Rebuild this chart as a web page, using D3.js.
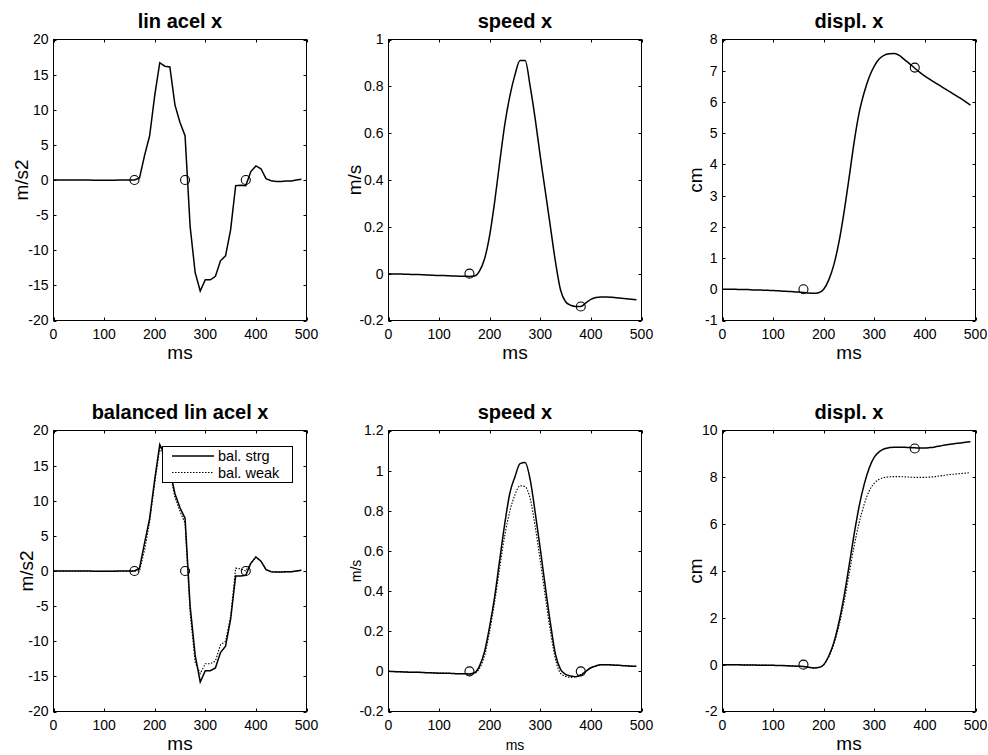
<!DOCTYPE html>
<html>
<head>
<meta charset="utf-8">
<script src="https://cdn.jsdelivr.net/npm/d3@7"></script>
<style>
  body { margin: 0; background: #fff; }
  svg { display: block; }
  text { font-family: "Liberation Sans", Arial, Helvetica, sans-serif; fill: #000; }
</style>
</head>
<body>
<div id="chart"></div>
<script>
// ── data (ms sampled every 10) ─────────────────────────────────────
const timeMs = d3.range(0, 500, 10);

const accel = [0,0,0,0,0,0,0,0,-0.05,-0.05,-0.05,-0.05,-0.02,0,0,0,0,0.3,3.5,6.3,
  12,16.7,16.2,16.1,10.7,8.2,6.3,-6.6,-13.2,-15.8,-14.2,-14.2,-13.7,-11.5,-10.8,-7.1,-0.8,-0.75,-0.8,1.2,
  2.0,1.6,0.2,-0.1,-0.2,-0.2,-0.15,-0.15,0,0.1];
const speed = [0,-0.001,-0.001,-0.002,-0.003,-0.004,-0.004,-0.005,-0.006,-0.007,-0.008,-0.008,-0.009,-0.01,-0.011,-0.011,-0.012,-0.01,0.012,0.065,
  0.165,0.31,0.48,0.64,0.76,0.85,0.91,0.91,0.8,0.66,0.5,0.35,0.2,0.05,-0.07,-0.12,-0.135,-0.14,-0.14,-0.125,
  -0.11,-0.102,-0.1,-0.1,-0.101,-0.103,-0.105,-0.107,-0.109,-0.111];
const displ = [0,0,0,-0.005,-0.01,-0.01,-0.02,-0.02,-0.03,-0.035,-0.04,-0.05,-0.06,-0.07,-0.08,-0.09,-0.1,-0.12,-0.13,-0.11,
  0,0.3,0.78,1.5,2.45,3.55,4.7,5.65,6.3,6.8,7.15,7.38,7.5,7.54,7.55,7.48,7.35,7.22,7.08,6.95,
  6.83,6.72,6.62,6.52,6.42,6.32,6.22,6.12,6.01,5.9];

const accelStrong = [0,0,0,0,0,0,0,0,-0.05,-0.05,-0.05,-0.05,-0.02,0,0,0,0,0.4,4,7.5,
  13,18,16.5,14.5,11,9,7.5,-5,-12,-15.8,-14.2,-14.2,-13.8,-11.6,-10.7,-6.9,-0.7,-0.7,-0.6,1.1,
  2.0,1.4,0.2,-0.1,-0.15,-0.15,-0.1,-0.1,0,0.1];
const accelWeak = [0,0,0,0,0,0,0,0,-0.05,-0.05,-0.05,-0.05,-0.02,0,0,0,0,0,3,7,
  12.5,17.5,16,14,10.5,8.5,6.8,-6,-13,-14.6,-13.2,-13.2,-12.8,-10.5,-10,-6.5,0.4,0.3,0,1.1,
  2.0,1.4,0.2,-0.1,-0.15,-0.15,-0.1,-0.1,0,0.1];
const speedStrong = [0,-0.001,-0.002,-0.003,-0.004,-0.005,-0.005,-0.006,-0.007,-0.008,-0.009,-0.009,-0.01,-0.011,-0.012,-0.012,-0.013,-0.007,0.027,0.1,
  0.225,0.375,0.56,0.74,0.89,0.97,1.035,1.04,0.955,0.79,0.61,0.42,0.24,0.085,0.01,-0.015,-0.023,-0.027,-0.02,0,
  0.018,0.027,0.033,0.033,0.032,0.031,0.029,0.028,0.026,0.025];
const speedWeak = [0,-0.001,-0.002,-0.003,-0.004,-0.005,-0.005,-0.006,-0.007,-0.008,-0.009,-0.009,-0.01,-0.011,-0.012,-0.012,-0.013,-0.01,0.015,0.08,
  0.2,0.35,0.52,0.68,0.8,0.88,0.925,0.92,0.86,0.72,0.55,0.37,0.2,0.06,-0.01,-0.025,-0.03,-0.025,-0.015,0,
  0.018,0.027,0.033,0.033,0.032,0.031,0.029,0.028,0.026,0.025];
const displStrong = [0,0,0,-0.005,-0.01,-0.01,-0.015,-0.02,-0.02,-0.025,-0.03,-0.035,-0.04,-0.05,-0.06,-0.07,-0.08,-0.11,-0.14,-0.12,
  0,0.37,0.94,1.8,2.9,4.2,5.55,6.76,7.7,8.4,8.86,9.1,9.22,9.27,9.29,9.29,9.28,9.27,9.26,9.25,
  9.25,9.27,9.3,9.34,9.38,9.41,9.44,9.47,9.5,9.52];
const displWeak = [0,0,0,-0.005,-0.01,-0.01,-0.015,-0.02,-0.02,-0.025,-0.03,-0.035,-0.04,-0.05,-0.06,-0.07,-0.08,-0.11,-0.14,-0.12,
  0,0.33,0.88,1.65,2.65,3.85,5.05,6.05,6.85,7.42,7.75,7.92,7.99,8.02,8.03,8.03,8.02,8.01,8.0,8.0,
  8.0,8.01,8.03,8.06,8.09,8.12,8.14,8.16,8.18,8.2];

// event markers (ms, value)
const markAccel = [[160, 0], [260, 0], [380, 0]];
const markSpeed = [[160, 0], [380, -0.14]];
const markDispl = [[160, 0], [380, 7.1]];
const markSpeedBal = [[160, 0], [380, 0]];
const markDisplBal = [[160, 0], [380, 9.23]];

const xTicks = [0, 100, 200, 300, 400, 500];
const yTicksAccel = [-20, -15, -10, -5, 0, 5, 10, 15, 20];
const yTicksSpeed = [-0.2, 0, 0.2, 0.4, 0.6, 0.8, 1];
const yTicksDispl = [-1, 0, 1, 2, 3, 4, 5, 6, 7, 8];
const yTicksSpeedBal = [-0.2, 0, 0.2, 0.4, 0.6, 0.8, 1, 1.2];
const yTicksDisplBal = [-2, 0, 2, 4, 6, 8, 10];

const legendLabels = ["bal. strg", "bal. weak"];

// ── layout ─────────────────────────────────────────────────────────
const W = 988, H = 755;
const colX = [53.5, 388.5, 722.5];
const rowY = [[39.5, 320.5], [430.5, 711.5]];
const axW = 253;

const panels = [
  { col: 0, row: 0, title: "lin acel x", ylab: "m/s2", ticks: yTicksAccel, series: [accel], marks: markAccel, ylabOff: 26, labSize: 19, curve: d3.curveLinear },
  { col: 1, row: 0, title: "speed x", ylab: "m/s", ticks: yTicksSpeed, series: [speed], marks: markSpeed, ylabOff: 28, labSize: 19, curve: d3.curveMonotoneX },
  { col: 2, row: 0, title: "displ. x", ylab: "cm", ticks: yTicksDispl, series: [displ], marks: markDispl, ylabOff: 21, labSize: 19, curve: d3.curveMonotoneX },
  { col: 0, row: 1, title: "balanced lin acel x", ylab: "m/s2", ticks: yTicksAccel, series: [accelStrong, accelWeak], marks: markAccel, ylabOff: 21, labSize: 19, curve: d3.curveLinear, legend: true },
  { col: 1, row: 1, title: "speed x", ylab: "m/s", ticks: yTicksSpeedBal, series: [speedStrong, speedWeak], marks: markSpeedBal, ylabOff: 28, labSize: 14, curve: d3.curveMonotoneX },
  { col: 2, row: 1, title: "displ. x", ylab: "cm", ticks: yTicksDisplBal, series: [displStrong, displWeak], marks: markDisplBal, ylabOff: 21, labSize: 19, curve: d3.curveMonotoneX }
];

const svg = d3.select("#chart").append("svg")
  .attr("width", W).attr("height", H);

const fmt = v => String(+v.toFixed(2));
const tickLen = 3;

panels.forEach(p => {
  const x0 = colX[p.col], [y0, y1] = rowY[p.row];
  const x = d3.scaleLinear().domain([0, 500]).range([x0, x0 + axW]);
  const y = d3.scaleLinear().domain(d3.extent(p.ticks)).range([y1, y0]);
  const g = svg.append("g");

  // data lines
  const line = d3.line().x((d, i) => x(timeMs[i])).y(d => y(d)).curve(p.curve);
  p.series.forEach((s, k) => {
    g.append("path").datum(s)
      .attr("d", line)
      .attr("fill", "none")
      .attr("stroke", "#000")
      .attr("stroke-width", k === 0 ? 1.5 : 1.1)
      .attr("stroke-dasharray", k === 0 ? null : "1.5,1.5");
  });

  // markers
  g.selectAll(".mk").data(p.marks).join("circle")
    .attr("cx", d => x(d[0])).attr("cy", d => y(d[1])).attr("r", 4.5)
    .attr("fill", "none").attr("stroke", "#000").attr("stroke-width", 1.1);

  // box
  g.append("rect")
    .attr("x", x0).attr("y", y0).attr("width", axW).attr("height", y1 - y0)
    .attr("fill", "none").attr("stroke", "#000").attr("stroke-width", 1);

  // ticks (inward, all sides)
  xTicks.forEach(t => {
    const xx = Math.round(x(t)) + 0.5;
    g.append("line").attr("x1", xx).attr("x2", xx).attr("y1", y1).attr("y2", y1 - tickLen).attr("stroke", "#000");
    g.append("line").attr("x1", xx).attr("x2", xx).attr("y1", y0).attr("y2", y0 + tickLen).attr("stroke", "#000");
    g.append("text").attr("x", x(t)).attr("y", y1 + 18)
      .attr("text-anchor", "middle").style("font-size", "14px").text(t);
  });
  p.ticks.forEach(t => {
    const yy = Math.round(y(t)) + 0.5;
    g.append("line").attr("x1", x0).attr("x2", x0 + tickLen).attr("y1", yy).attr("y2", yy).attr("stroke", "#000");
    g.append("line").attr("x1", x0 + axW).attr("x2", x0 + axW - tickLen).attr("y1", yy).attr("y2", yy).attr("stroke", "#000");
    g.append("text").attr("x", x0 - 5).attr("y", y(t)).attr("dy", "0.35em")
      .attr("text-anchor", "end").style("font-size", "14px").text(fmt(t));
  });

  // title and labels
  g.append("text").attr("x", x0 + axW / 2).attr("y", y0 - 12)
    .attr("text-anchor", "middle").style("font-size", "20px").style("font-weight", "bold").text(p.title);
  g.append("text").attr("x", x0 + axW / 2).attr("y", y1 + 38.5)
    .attr("text-anchor", "middle").style("font-size", p.labSize + "px").text("ms");
  g.append("text")
    .attr("transform", `translate(${x0 - p.ylabOff},${(y0 + y1) / 2}) rotate(-90)`)
    .attr("text-anchor", "middle").style("font-size", p.labSize + "px").text(p.ylab);

  // legend
  if (p.legend) {
    const lx = 162, ly = 446;
    const lg = g.append("g");
    lg.append("rect").attr("x", lx + 0.5).attr("y", ly + 0.5).attr("width", 130).attr("height", 36)
      .attr("fill", "#fff").attr("stroke", "#000").attr("stroke-width", 1);
    legendLabels.forEach((lab, k) => {
      const yy = ly + 10 + k * 16.5;
      lg.append("line").attr("x1", lx + 10).attr("x2", lx + 52).attr("y1", yy).attr("y2", yy)
        .attr("stroke", "#000").attr("stroke-width", k === 0 ? 1.5 : 1.1)
        .attr("stroke-dasharray", k === 0 ? null : "1.5,1.5");
      lg.append("text").attr("x", lx + 56).attr("y", yy + 5)
        .style("font-size", "14.5px").text(lab);
    });
  }
});
</script>
</body>
</html>
